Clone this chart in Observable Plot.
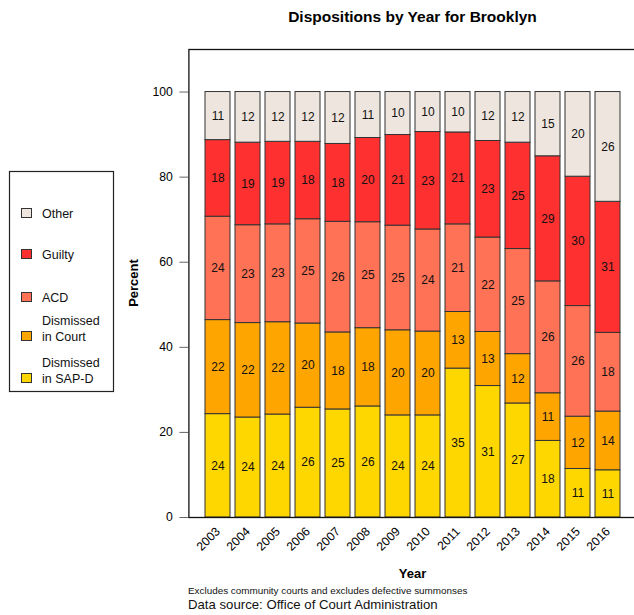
<!DOCTYPE html>
<html>
<head>
<meta charset="utf-8">
<script src="https://cdn.jsdelivr.net/npm/d3@7"></script>
<script src="https://cdn.jsdelivr.net/npm/@observablehq/plot@0.6"></script>
<style>
  html, body { margin: 0; padding: 0; background: #fff; }
  #chart { position: relative; width: 634px; height: 615px; }
  svg text { font-family: "Liberation Sans", Arial, Helvetica, sans-serif; }
</style>
</head>
<body>
<div id="chart"></div>
<script>
const years = ["2003","2004","2005","2006","2007","2008","2009","2010","2011","2012","2013","2014","2015","2016"];
const categories = ["Dismissed in SAP-D", "Dismissed in Court", "ACD", "Guilty", "Other"];
const colors = ["#FFD700", "#FFA500", "#FF7256", "#FF3030", "#EEE5DE"];

const sapd   = [24.3, 23.5, 24.2, 25.8, 25.4, 26.1, 24.0, 24.0, 35.0, 30.9, 26.8, 18.0, 11.4, 11.1];
const court  = [22.1, 22.2, 21.7, 19.8, 18.1, 18.4, 20.0, 19.7, 13.3, 12.7, 11.6, 11.2, 12.3, 13.8];
const acd    = [24.3, 23.0, 23.0, 24.5, 26.0, 24.9, 24.6, 24.0, 20.6, 22.2, 24.7, 26.3, 26.0, 18.5];
const guilty = [18.0, 19.4, 19.4, 18.2, 18.3, 19.8, 21.3, 22.9, 21.6, 22.7, 25.0, 29.4, 30.4, 30.8];
const other  = [11.3, 11.9, 11.7, 11.7, 12.2, 10.8, 10.1,  9.4,  9.5, 11.5, 11.9, 15.1, 19.9, 25.8];

const sapdLab   = [24,24,24,26,25,26,24,24,35,31,27,18,11,11];
const courtLab  = [22,22,22,20,18,18,20,20,13,13,12,11,12,14];
const acdLab    = [24,23,23,25,26,25,25,24,21,22,25,26,26,18];
const guiltyLab = [18,19,19,18,18,20,21,23,21,23,25,29,30,31];
const otherLab  = [11,12,12,12,12,11,10,10,10,12,12,15,20,26];

const yTicks = [0, 20, 40, 60, 80, 100];
const title = "Dispositions by Year for Brooklyn";
const xLabel = "Year";
const yLabel = "Percent";
const note = "Excludes community courts and excludes defective summonses";
const source = "Data source: Office of Court Administration";
const legendItems = [
  {cat: "Other", lines: ["Other"]},
  {cat: "Guilty", lines: ["Guilty"]},
  {cat: "ACD", lines: ["ACD"]},
  {cat: "Dismissed in Court", lines: ["Dismissed", "in Court"]},
  {cat: "Dismissed in SAP-D", lines: ["Dismissed", "in SAP-D"]}
];

const series = [sapd, court, acd, guilty, other];
const labels = [sapdLab, courtLab, acdLab, guiltyLab, otherLab];
const segs = [];
years.forEach((yr, i) => {
  let base = 0;
  series.forEach((s, k) => {
    const v = s[i];
    segs.push({year: yr, cat: categories[k], y1: base, y2: base + v, ym: base + v / 2, label: String(labels[k][i])});
    base += v;
  });
});

const W = 634, H = 615;
const mL = 188.4, mR = -2.6, mT = 49, mB = 98;

const plot = Plot.plot({
  width: W, height: H,
  marginLeft: mL, marginRight: mR, marginTop: mT, marginBottom: mB,
  style: {fontFamily: '"Liberation Sans", Arial, sans-serif', fontSize: "12px", background: "white", overflow: "visible"},
  x: {domain: years, paddingInner: 1/6, paddingOuter: 0.553, label: null},
  y: {domain: [0, 110], label: null},
  color: {domain: categories, range: colors},
  marks: [
    Plot.barY(segs, {x: "year", y1: "y1", y2: "y2", fill: "cat", stroke: "#333", strokeWidth: 1}),
    Plot.text(segs, {x: "year", y: "ym", text: "label", fill: "#111", fontSize: 12}),
    Plot.axisY({ticks: yTicks, tickSize: 9, tickPadding: 7, label: null, stroke: "#666", fontSize: 12.2}),
    Plot.axisX({tickSize: 0, tickRotate: -45, tickPadding: 12, label: null, fontSize: 12.2}),
    Plot.frame({stroke: "#111", strokeWidth: 1.3})
  ]
});

document.getElementById("chart").appendChild(plot);

const svg = d3.select(plot);
const font = '"Liberation Sans", Arial, sans-serif';
const cx = (mL + (W - mR)) / 2;

function addText(x, y, str, size, opts = {}) {
  const t = svg.append("text").attr("x", x).attr("y", y)
    .attr("text-anchor", opts.anchor || "start")
    .attr("font-size", size).attr("font-family", font)
    .attr("font-weight", opts.bold ? "bold" : "normal")
    .attr("fill", opts.fill || "#000").text(str);
  if (opts.transform) t.attr("transform", opts.transform);
  return t;
}

addText(cx, 22, title, 15.5, {anchor: "middle", bold: true});
addText(cx, 578, xLabel, 13, {anchor: "middle", bold: true});
addText(0, 0, yLabel, 13, {anchor: "middle", bold: true, transform: `translate(138,${(mT + H - mB) / 2}) rotate(-90)`});
addText(188, 594, note, 9.9, {fill: "#111"});
addText(188, 609, source, 13.2, {fill: "#111"});

// legend
const lg = svg.append("g");
lg.append("rect").attr("x", 9.5).attr("y", 171.5).attr("width", 104).attr("height", 220)
  .attr("fill", "white").attr("stroke", "#222").attr("stroke-width", 1.2);
const rowsY = [213, 254, 297, 336, 378];
legendItems.forEach((it, i) => {
  const y = rowsY[i];
  const col = colors[categories.indexOf(it.cat)];
  lg.append("rect").attr("x", 21.5).attr("y", y - 4.5).attr("width", 10).attr("height", 9)
    .attr("fill", col).attr("stroke", "#333").attr("stroke-width", 1);
  it.lines.forEach((ln, j) => {
    const ty = y + 4.5 - (it.lines.length - 1 - j) * 15.5;
    lg.append("text").attr("x", 42).attr("y", ty).attr("text-anchor", "start")
      .attr("font-size", 12.5).attr("font-family", font)
      .attr("fill", "#111").text(ln);
  });
});
</script>
</body>
</html>
